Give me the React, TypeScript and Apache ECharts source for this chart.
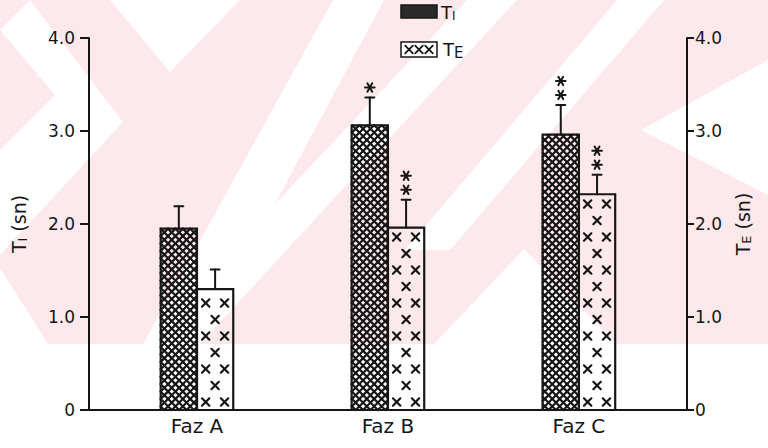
import React, { useEffect, useRef } from 'react';
import * as echarts from 'echarts';

const categories = ['Faz A', 'Faz B', 'Faz C'];
const categoryPositions = [1, 2, 3];
const tiValues = [1.95, 3.06, 2.96];
const tiErrorTops = [2.19, 3.36, 3.28];
const tiStars = [0, 1, 2];
const teValues = [1.3, 1.96, 2.32];
const teErrorTops = [1.51, 2.26, 2.53];
const teStars = [0, 2, 2];
const yTickValues = [0, 1, 2, 3, 4];

const INK = '#161616';
const PINK = '#fde8eb';
const FONT = 'DejaVu Sans';
const BAR_W = 0.19;

function clip(x1: number, y1: number, x2: number, y2: number, L: number, T: number, R: number, B: number) {
  let t0 = 0, t1 = 1;
  const dx = x2 - x1, dy = y2 - y1;
  const p = [-dx, dx, -dy, dy];
  const q = [x1 - L, R - x1, y1 - T, B - y1];
  for (let i = 0; i < 4; i++) {
    if (p[i] === 0) {
      if (q[i] < 0) return null;
    } else {
      const r = q[i] / p[i];
      if (p[i] < 0) {
        if (r > t1) return null;
        if (r > t0) t0 = r;
      } else {
        if (r < t0) return null;
        if (r < t1) t1 = r;
      }
    }
  }
  if (t1 - t0 < 1e-6) return null;
  return [x1 + t0 * dx, y1 + t0 * dy, x1 + t1 * dx, y1 + t1 * dy];
}

function seg(x1: number, y1: number, x2: number, y2: number, w = 2) {
  return { type: 'line', shape: { x1, y1, x2, y2 }, style: { stroke: INK, lineWidth: w, lineCap: 'round' } };
}

function xMark(cx: number, cy: number, r: number, w: number, out: any[]) {
  out.push(seg(cx - r, cy - r, cx + r, cy + r, w));
  out.push(seg(cx + r, cy - r, cx - r, cy + r, w));
}

function errorAndStars(mid: number, top: number, yErr: number, stars: number, out: any[]) {
  out.push(seg(mid, top, mid, yErr, 2));
  out.push(seg(mid - 4.5, yErr, mid + 4.5, yErr, 2));
  for (let k = 0; k < stars; k++) {
    const cy = yErr - 10 - k * 14;
    const r = 4.8;
    const dx = r * Math.cos(Math.PI / 3), dy = r * Math.sin(Math.PI / 3);
    out.push(seg(mid - r, cy, mid + r, cy, 2));
    out.push(seg(mid - dx, cy - dy, mid + dx, cy + dy, 2));
    out.push(seg(mid + dx, cy - dy, mid - dx, cy + dy, 2));
  }
}

function barGeom(api: any) {
  const xv = api.value(0);
  const [cx, top] = api.coord([xv, api.value(1)]);
  const base = api.coord([xv, 0])[1];
  const yErr = api.coord([xv, api.value(2)])[1];
  const w = api.size([BAR_W, 0])[0];
  return { cx, top, base, yErr, w, stars: api.value(3) };
}

const renderTI = (_params: any, api: any) => {
  const g = barGeom(api);
  const L = g.cx - g.w, R = g.cx, T = g.top, B = g.base;
  const H = B - T;
  const children: any[] = [];
  const step = 7.4;
  for (let c = -H - step; c <= g.w + H + step; c += step) {
    const a = clip(L + c - 10, B + 10, L + c + H + 10, B - H - 10, L, T, R, B);
    if (a) children.push(seg(a[0], a[1], a[2], a[3], 2.2));
    const b = clip(L + c - H - 10, B - H - 10, L + c + 10, B + 10, L, T, R, B);
    if (b) children.push(seg(b[0], b[1], b[2], b[3], 2.2));
  }
  children.push({ type: 'rect', shape: { x: L, y: T, width: R - L, height: H }, style: { fill: 'rgba(0,0,0,0)', stroke: INK, lineWidth: 2.2 } });
  errorAndStars((L + R) / 2, T, g.yErr, g.stars, children);
  return { type: 'group', children };
};

const renderTE = (_params: any, api: any) => {
  const g = barGeom(api);
  const L = g.cx, R = g.cx + g.w, T = g.top, B = g.base;
  const H = B - T;
  const children: any[] = [];
  for (let r = 0; ; r++) {
    const y = B - 8 - r * 16.5;
    if (y - 4 < T + 3) break;
    const xs = r % 2 === 0 ? [L + 0.24 * g.w, L + 0.76 * g.w] : [L + 0.5 * g.w];
    xs.forEach((x) => xMark(x, y, 3.7, 2.2, children));
  }
  children.push({ type: 'rect', shape: { x: L, y: T, width: R - L, height: H }, style: { fill: 'rgba(0,0,0,0)', stroke: INK, lineWidth: 2.2 } });
  errorAndStars((L + R) / 2, T, g.yErr, g.stars, children);
  return { type: 'group', children };
};

const fmtY = (v: number) => (v === 0 ? '0' : v.toFixed(1));

function watermark() {
  const white = (pts: number[][]) => ({ type: 'polygon', z: -9, silent: true, shape: { points: pts }, style: { fill: '#ffffff' } });
  return [
    { type: 'rect', z: -10, silent: true, shape: { x: 0, y: 0, width: 768, height: 344 }, style: { fill: PINK } },
    white([[110, 0], [240, 0], [170, 72]]),
    white([[30, 0], [123, 122], [0, 255], [0, 150], [55, 95], [0, 30]]),
    white([[0, 268], [48, 344], [0, 344]]),
    white([[333, 0], [384, 0], [200, 344], [143, 344]]),
    white([[467, 0], [517, 0], [200, 344], [143, 344]]),
    white([[617, 0], [664, 0], [450, 250], [405, 250]]),
    white([[434, 344], [524, 249], [617, 344]]),
    white([[768, 60], [641, 130], [768, 195]]),
  ];
}

function legend() {
  const els: any[] = [];
  els.push({ type: 'rect', z: 20, shape: { x: 401, y: 5, width: 36, height: 13 }, style: { fill: '#2b2b2b', stroke: INK, lineWidth: 1.5 } });
  els.push({
    type: 'text', z: 20, x: 441, y: 2,
    style: { text: '{m|T}{s|I}', rich: { m: { fontSize: 18, fontFamily: FONT, fill: INK }, s: { fontSize: 12, fontFamily: FONT, fill: INK, padding: [8, 0, 0, 0] } } },
  });
  els.push({ type: 'rect', z: 20, shape: { x: 401, y: 42, width: 36, height: 15 }, style: { fill: '#ffffff', stroke: INK, lineWidth: 1.5 } });
  [409, 419, 429].forEach((x) => {
    const t: any[] = [];
    xMark(x, 49.5, 3.8, 1.8, t);
    t.forEach((e) => els.push({ ...e, z: 21 }));
  });
  els.push({
    type: 'text', z: 20, x: 443, y: 39,
    style: { text: '{m|T}{s|E}', rich: { m: { fontSize: 18, fontFamily: FONT, fill: INK }, s: { fontSize: 15, fontFamily: FONT, fill: INK, padding: [6, 0, 0, 0] } } },
  });
  return els;
}

export default function App() {
  const ref = useRef<HTMLDivElement>(null);
  useEffect(() => {
    document.body.style.margin = '0';
    const chart = echarts.init(ref.current!, undefined, { renderer: 'svg' });
    const axisName = (sub: string) => `{m|T}{s|${sub}}{m| (sn)}`;
    const nameStyle = {
      color: INK,
      fontFamily: FONT,
      rich: {
        m: { fontSize: 19, fontFamily: FONT, color: INK },
        s: { fontSize: 13, fontFamily: FONT, color: INK, padding: [7, 0, 0, 0] },
      },
    };
    chart.setOption({
      animation: false,
      backgroundColor: '#ffffff',
      textStyle: { fontFamily: FONT },
      grid: { left: 89, right: 81, top: 38, bottom: 38, containLabel: false },
      graphic: { elements: [...watermark(), ...legend()] },
      xAxis: {
        type: 'value',
        min: 0.4346,
        max: 3.566,
        axisLine: { show: true, onZero: false, lineStyle: { color: INK, width: 2 } },
        axisTick: { show: false },
        splitLine: { show: false },
        axisLabel: {
          customValues: categoryPositions,
          formatter: (v: number) => categories[Math.round(v) - 1] ?? '',
          fontSize: 20,
          color: INK,
          fontFamily: FONT,
          margin: 6,
        },
      },
      yAxis: [
        {
          type: 'value',
          position: 'left',
          min: yTickValues[0],
          max: yTickValues[yTickValues.length - 1],
          interval: 1,
          axisLine: { show: true, lineStyle: { color: INK, width: 2 } },
          axisTick: { show: true, length: 9, lineStyle: { color: INK, width: 2 } },
          axisLabel: { formatter: fmtY, fontSize: 17, color: INK, fontFamily: FONT, margin: 14 },
          splitLine: { show: false },
          name: axisName('I'),
          nameLocation: 'middle',
          nameGap: 60,
          nameRotate: 90,
          nameTextStyle: nameStyle,
        },
        {
          type: 'value',
          position: 'right',
          min: yTickValues[0],
          max: yTickValues[yTickValues.length - 1],
          interval: 1,
          axisLine: { show: true, lineStyle: { color: INK, width: 2 } },
          axisTick: { show: true, length: 7, lineStyle: { color: INK, width: 2 } },
          axisLabel: { formatter: fmtY, fontSize: 17, color: INK, fontFamily: FONT, margin: 8 },
          splitLine: { show: false },
          name: axisName('E'),
          nameLocation: 'middle',
          nameGap: 46,
          nameRotate: 90,
          nameTextStyle: nameStyle,
        },
      ],
      series: [
        {
          name: 'TI',
          type: 'custom',
          renderItem: renderTI,
          xAxisIndex: 0,
          yAxisIndex: 0,
          clip: false,
          z: 5,
          encode: { x: 0, y: [1, 2] },
          data: categoryPositions.map((x, i) => [x, tiValues[i], tiErrorTops[i], tiStars[i]]),
        },
        {
          name: 'TE',
          type: 'custom',
          renderItem: renderTE,
          xAxisIndex: 0,
          yAxisIndex: 1,
          clip: false,
          z: 5,
          encode: { x: 0, y: [1, 2] },
          data: categoryPositions.map((x, i) => [x, teValues[i], teErrorTops[i], teStars[i]]),
        },
      ],
    });
    return () => chart.dispose();
  }, []);
  return <div ref={ref} style={{ position: 'fixed', left: 0, top: 0, width: 768, height: 448 }} />;
}
